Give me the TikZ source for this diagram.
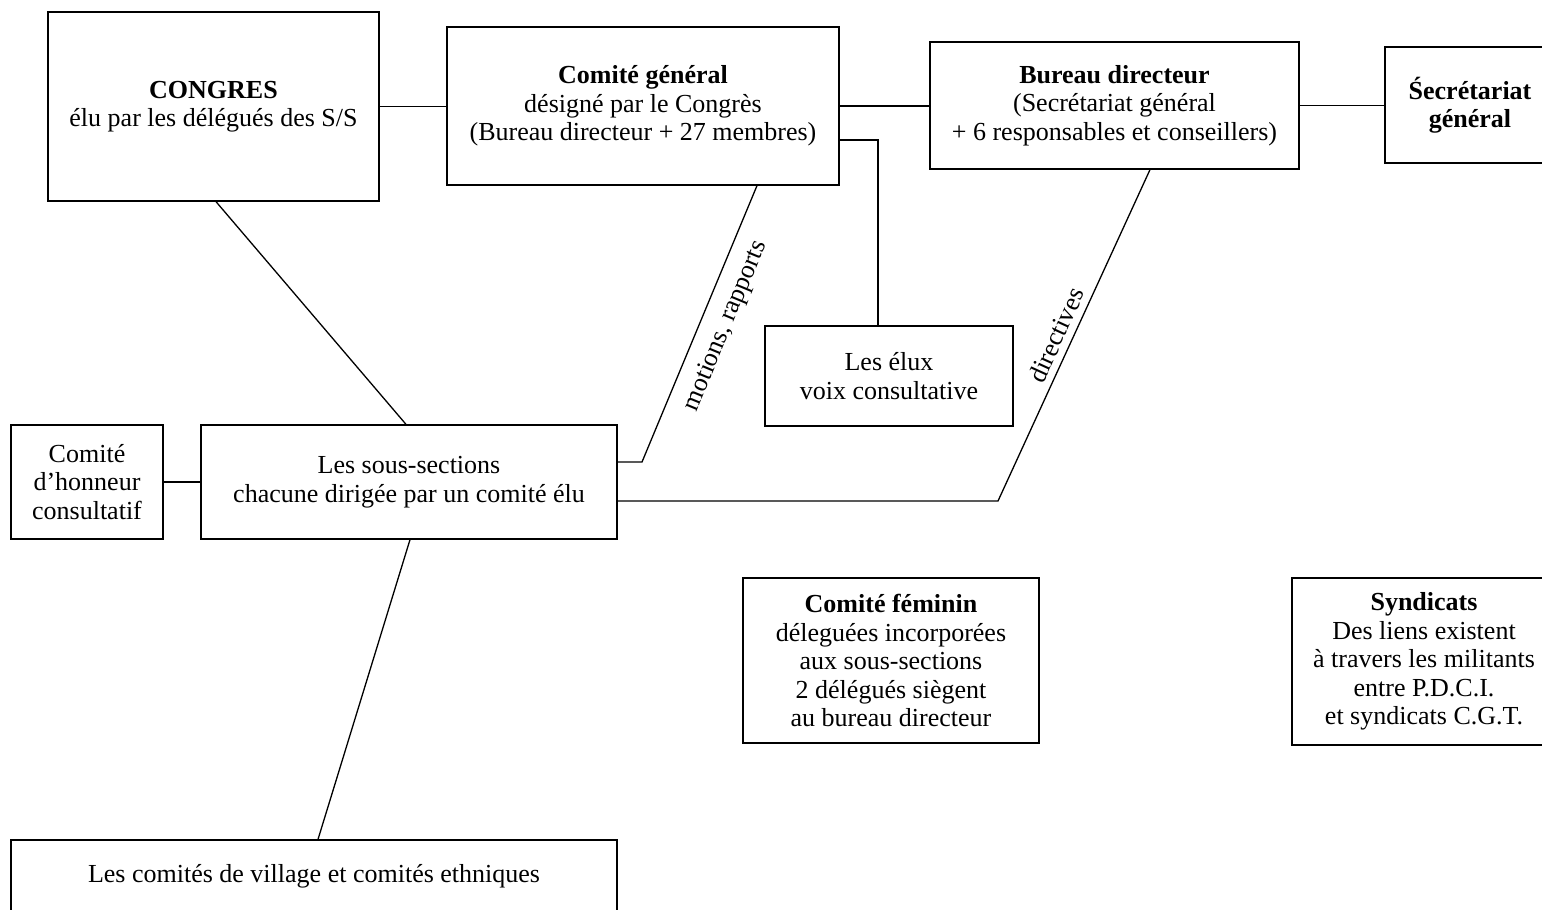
\documentclass[tikz,border=0pt]{standalone}
\usepackage{fontspec}
\setmainfont{Liberation Serif}
\usetikzlibrary{calc}
\begin{document}
\begin{tikzpicture}[x=1pt,y=-1pt,line width=1.3pt,
  box/.style={draw, rectangle, inner sep=0pt, align=center, font=\fontsize{26}{28.5}\selectfont},
  lbl/.style={inner sep=0pt, font=\fontsize{26}{28.5}\selectfont}]
\useasboundingbox (0,0) rectangle (1542,910);

\node[box, minimum width=331pt, minimum height=189pt] (congres) at (213.5,106.5) {\textbf{CONGRES}\\élu par les délégués des S/S};
\node[box, minimum width=392pt, minimum height=158pt] (cg) at (643,106) {\textbf{Comité général}\\désigné par le Congrès\\(Bureau directeur + 27 membres)};
\node[box, minimum width=369pt, minimum height=127pt] (bd) at (1114.5,105.5) {\textbf{Bureau directeur}\\(Secrétariat général\\+ 6 responsables et conseillers)};
\node[box, minimum width=170pt, minimum height=116pt] (sg) at (1470,105) {\textbf{Śecrétariat}\\\textbf{général}};
\node[box, minimum width=248pt, minimum height=100pt] (elux) at (889,376) {Les élux\\voix consultative};
\node[box, minimum width=152pt, minimum height=114pt] (hon) at (87,482) {Comité\\d'honneur\\consultatif};
\node[box, minimum width=416pt, minimum height=114pt] (ss) at (409,482) {Les sous-sections\\chacune dirigée par un comité élu};
\node[box, minimum width=296pt, minimum height=165pt] (fem) at (891,660.5) {\textbf{Comité féminin}\\déleguées incorporées\\aux sous-sections\\2 délégués siègent\\au bureau directeur};
\node[box, minimum width=264pt, minimum height=167pt] (syn) at (1424,661.5) {\textbf{Syndicats}\\Des liens existent\\à travers les militants\\entre P.D.C.I.\\et syndicats C.G.T.};
\node[box, minimum width=606pt, minimum height=72pt] (vil) at (314,876) {Les comités de village et comités ethniques};

\draw (congres.east) -- (congres.east -| cg.west);
\draw (cg.east) -- (cg.east -| bd.west);
\draw (bd.east) -- (bd.east -| sg.west);
\draw (hon.east) -- (ss.west);
\coordinate (e1) at (878,140);
\draw (cg.east |- e1) -- (e1) -- (e1 |- elux.north);
\coordinate (m1) at (642,462);
\draw ($(cg.south)+(114,0)$) -- (m1) -- (m1 -| ss.east);
\coordinate (d1) at (998,501);
\draw ($(bd.south)+(35.5,0)$) -- (d1) -- (d1 -| ss.east);
\draw ($(congres.south)+(2.5,0)$) -- ($(ss.north)+(-3,0)$);
\draw ($(ss.south)+(1,0)$) -- ($(vil.north)+(4,0)$);

\node[lbl, rotate=67.5] (lm) at (726,326) {motions, rapports};
\node[lbl, rotate=65.5] (ld) at (1056,335) {directives};
\end{tikzpicture}
\end{document}
